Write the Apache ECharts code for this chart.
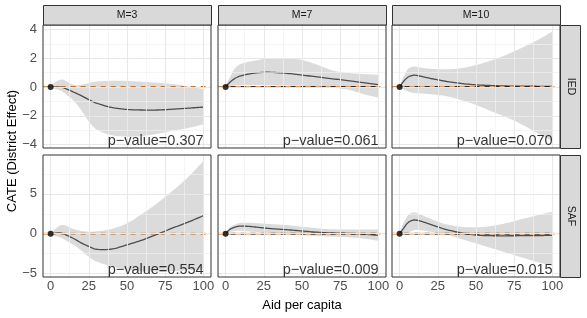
<!DOCTYPE html>
<html><head><meta charset="utf-8">
<script src="https://cdn.jsdelivr.net/npm/echarts@6/dist/echarts.min.js"></script>
<style>html,body{margin:0;padding:0;background:#fff}#c{width:587px;height:318px}</style>
</head><body><div id="c"></div>
<script>
// ---------------- data ----------------
const xs = [0, 2.5, 5, 7.5, 10, 15, 20, 25, 30, 40, 50, 60, 70, 80, 90, 100];
const colLabels = ['M=3', 'M=7', 'M=10'];
const rowLabels = ['IED', 'SAF'];
const pValues = [['0.307', '0.061', '0.070'], ['0.554', '0.009', '0.015']];

const iedM3Mean  = [0, 0, 0, -0.02, -0.12, -0.35, -0.6, -0.88, -1.12, -1.42, -1.56, -1.6, -1.6, -1.54, -1.47, -1.4];
const iedM3Upper = [0.05, 0.3, 0.45, 0.52, 0.42, 0.15, 0.15, 0.28, 0.38, 0.43, 0.42, 0.36, 0.3, 0.2, 0.05, -0.15];
const iedM3Lower = [-0.05, -0.12, -0.2, -0.3, -0.5, -0.95, -1.6, -2.4, -2.95, -3.35, -3.45, -3.4, -3.25, -3.05, -2.85, -2.6];

const iedM7Mean  = [0, 0.3, 0.52, 0.68, 0.78, 0.9, 0.98, 1.02, 1.02, 0.95, 0.83, 0.7, 0.57, 0.45, 0.3, 0.16];
const iedM7Upper = [0.05, 0.6, 1.15, 1.45, 1.6, 1.75, 1.85, 1.95, 2.0, 2.0, 1.88, 1.55, 1.15, 0.98, 0.9, 0.85];
const iedM7Lower = [-0.05, 0.05, 0.1, 0.12, 0.13, 0.14, 0.14, 0.13, 0.12, 0.1, 0.08, 0.03, -0.05, -0.18, -0.48, -0.75];

const iedM10Mean  = [0, 0.38, 0.65, 0.78, 0.82, 0.72, 0.6, 0.5, 0.4, 0.25, 0.15, 0.1, 0.07, 0.06, 0.05, 0.05];
const iedM10Upper = [0.05, 0.7, 1.2, 1.38, 1.42, 1.33, 1.27, 1.24, 1.23, 1.3, 1.52, 1.85, 2.25, 2.72, 3.25, 3.85];
const iedM10Lower = [-0.05, -0.15, -0.3, -0.38, -0.42, -0.46, -0.5, -0.56, -0.62, -0.9, -1.25, -1.68, -2.1, -2.6, -3.2, -3.75];

const safM3Mean  = [0, 0.05, 0.1, 0.05, -0.15, -0.6, -1.15, -1.6, -1.95, -1.92, -1.4, -0.8, -0.05, 0.72, 1.45, 2.26];
const safM3Upper = [0.1, 0.5, 0.9, 1.1, 1.0, 0.6, 0.35, 0.25, 0.3, 0.6, 1.3, 2.5, 3.85, 5.4, 7.1, 9.1];
const safM3Lower = [-0.1, -0.25, -0.4, -0.55, -0.85, -1.4, -2.1, -2.9, -3.5, -4.1, -4.5, -4.7, -4.75, -4.7, -4.6, -4.5];

const safM7Mean  = [0, 0.5, 0.75, 0.9, 0.96, 0.92, 0.83, 0.72, 0.63, 0.5, 0.34, 0.18, 0.09, 0.04, -0.05, -0.2];
const safM7Upper = [0.05, 0.75, 1.05, 1.25, 1.36, 1.38, 1.32, 1.26, 1.2, 1.08, 0.88, 0.68, 0.55, 0.54, 0.54, 0.54];
const safM7Lower = [-0.05, 0.2, 0.3, 0.36, 0.38, 0.3, 0.22, 0.16, 0.1, -0.04, -0.17, -0.29, -0.37, -0.45, -0.6, -0.88];

const safM10Mean  = [0, 0.65, 1.3, 1.62, 1.72, 1.5, 1.18, 0.85, 0.55, 0.12, -0.17, -0.25, -0.26, -0.25, -0.23, -0.21];
const safM10Upper = [0.1, 1.3, 2.2, 2.58, 2.65, 2.3, 1.9, 1.5, 1.2, 0.86, 0.8, 0.96, 1.33, 1.83, 2.3, 2.76];
const safM10Lower = [-0.1, -0.15, 0.1, 0.3, 0.45, 0.4, 0.25, 0.12, -0.05, -0.65, -1.22, -1.8, -2.4, -2.98, -3.55, -4.05];

const xTicks = [0, 25, 50, 75, 100];
const xMinor = [12.5, 37.5, 62.5, 87.5];
const yTicksTop = [-4, -2, 0, 2, 4];
const yMinorTop = [-3, -1, 1, 3];
const yTicksBot = [-5, 0, 5];
const yMinorBot = [-2.5, 2.5, 7.5];

// ---------------- layout ----------------
const panels = [
  [[iedM3Mean, iedM3Upper, iedM3Lower], [iedM7Mean, iedM7Upper, iedM7Lower], [iedM10Mean, iedM10Upper, iedM10Lower]],
  [[safM3Mean, safM3Upper, safM3Lower], [safM7Mean, safM7Upper, safM7Lower], [safM10Mean, safM10Upper, safM10Lower]]
];
const colLeft = [43, 218, 392];
const colW = 168;
const rowTop = [25, 155];
const rowH = [123, 122];
const xRange = [-5, 105];
const yRange = [[-4.24, 4.31], [-5.43, 9.87]];
const yTicks = [yTicksTop, yTicksBot];
const yMinor = [yMinorTop, yMinorBot];
const FONT = 'Liberation Sans, Arial, Helvetica, sans-serif';
const minus = v => String(v).replace('-', '\u2212');

// smooth (cubic Hermite) rendering of a pixel-space polyline
function smoothPts(pts) {
  const n = pts.length, m = [];
  for (let i = 0; i < n; i++) {
    const a = pts[Math.max(0, i - 1)], b = pts[Math.min(n - 1, i + 1)];
    m.push((b[1] - a[1]) / (b[0] - a[0]));
  }
  const out = [pts[0]];
  for (let i = 0; i < n - 1; i++) {
    const [x0, y0] = pts[i], [x1, y1] = pts[i + 1], h = x1 - x0;
    for (let k = 1; k <= 8; k++) {
      const t = k / 8, t2 = t * t, t3 = t2 * t;
      const y = (2 * t3 - 3 * t2 + 1) * y0 + (t3 - 2 * t2 + t) * h * m[i] + (-2 * t3 + 3 * t2) * y1 + (t3 - t2) * h * m[i + 1];
      out.push([x0 + t * h, y]);
    }
  }
  return out;
}

function panelRenderer(mean, up, lo) {
  return function (params, api) {
    if (params.dataIndex !== 0) return null;
    const top = smoothPts(xs.map((x, i) => api.coord([x, up[i]])));
    const bot = smoothPts(xs.map((x, i) => api.coord([x, lo[i]]))).reverse();
    const mid = smoothPts(xs.map((x, i) => api.coord([x, mean[i]])));
    return {
      type: 'group',
      children: [
        {type: 'polygon', shape: {points: top.concat(bot)}, style: {fill: 'rgba(190,190,190,0.55)', stroke: null}, z2: 1},
        {type: 'polyline', shape: {points: mid}, style: {fill: null, stroke: '#4d4d4d', lineWidth: 1.3}, z2: 10}
      ]
    };
  };
}

const grids = [], xAxes = [], yAxes = [], series = [], graphics = [];
for (let r = 0; r < 2; r++) {
  for (let c = 0; c < 3; c++) {
    const g = r * 3 + c;
    grids.push({left: colLeft[c], top: rowTop[r], width: colW, height: rowH[r], show: true,
      backgroundColor: 'rgba(0,0,0,0)', borderColor: '#333', borderWidth: 1, z: 10});
    xAxes.push({type: 'value', gridIndex: g, min: xRange[0], max: xRange[1],
      axisLine: {show: false}, splitLine: {show: false},
      axisTick: {show: r === 1, customValues: xTicks, length: 3, lineStyle: {color: '#333'}},
      axisLabel: {show: r === 1, customValues: xTicks, margin: 3, color: '#4d4d4d', fontSize: 13, fontFamily: FONT}});
    yAxes.push({type: 'value', gridIndex: g, min: yRange[r][0], max: yRange[r][1],
      axisLine: {show: false}, splitLine: {show: false},
      axisTick: {show: c === 0, customValues: yTicks[r], length: 3, lineStyle: {color: '#333'}},
      axisLabel: {show: c === 0, customValues: yTicks[r], margin: 6, color: '#4d4d4d', fontSize: 13, fontFamily: FONT,
        formatter: minus}});
    const gl = [];
    xMinor.forEach(v => gl.push({xAxis: v, lineStyle: {color: '#f1f1f1', width: 0.7, type: 'solid'}}));
    yMinor[r].forEach(v => gl.push({yAxis: v, lineStyle: {color: '#f1f1f1', width: 0.7, type: 'solid'}}));
    xTicks.forEach(v => gl.push({xAxis: v, lineStyle: {color: '#e8e8e8', width: 1.1, type: 'solid'}}));
    yTicks[r].forEach(v => gl.push({yAxis: v, lineStyle: {color: '#e8e8e8', width: 1.1, type: 'solid'}}));
    const base = {xAxisIndex: g, yAxisIndex: g, animation: false, silent: true};
    series.push(Object.assign({}, base, {type: 'line', data: [], z: 1,
      markLine: {silent: true, symbol: ['none', 'none'], label: {show: false}, animation: false, data: gl}}));
    const [mean, up, lo] = panels[r][c];
    // zero reference lines
    series.push(Object.assign({}, base, {type: 'line', symbol: 'none', z: 3,
      lineStyle: {color: '#d9822b', width: 1.8}, data: [[xRange[0], 0], [0, 0]]}));
    series.push(Object.assign({}, base, {type: 'line', symbol: 'none', z: 3,
      lineStyle: {color: c === 0 ? '#c0722f' : '#e39a5e', width: 1.8, type: [5, 5]}, data: [[0, 0], [xRange[1], 0]]}));
    if (c > 0) {
      series.push(Object.assign({}, base, {type: 'line', symbol: 'none', z: 3,
        lineStyle: {color: '#1a1a1a', width: 1.8, type: [5, 5], dashOffset: 5}, data: [[0, 0], [100, 0]]}));
    }
    series.push(Object.assign({}, base, {type: 'custom', z: 2, clip: true,
      renderItem: panelRenderer(mean, up, lo), data: xs.map((x, i) => [x, lo[i], up[i], mean[i]]),
      encode: {x: 0, y: [1, 2, 3]}}));
    series.push(Object.assign({}, base, {type: 'scatter', symbolSize: 6, z: 5,
      itemStyle: {color: '#000'}, data: [[0, 0]]}));
    series.push(Object.assign({}, base, {type: 'scatter', symbolSize: 1, z: 6,
      itemStyle: {color: 'rgba(0,0,0,0)'}, data: [[100.5, yRange[r][0]]],
      label: {show: true, position: [0, 0], align: 'right', verticalAlign: 'bottom', offset: [0, 1],
        formatter: 'p\u2212value=' + pValues[r][c], color: '#000', fontSize: 14.5, fontFamily: FONT}}));
    // strips
    if (r === 0) {
      graphics.push({type: 'rect', shape: {x: colLeft[c] + 0.5, y: 5.5, width: colW, height: 19.5},
        style: {fill: '#d9d9d9', stroke: '#333', lineWidth: 1}, z: 20});
      graphics.push({type: 'text', x: colLeft[c] + colW / 2, y: 15.5, z: 21,
        style: {text: colLabels[c], fill: '#1a1a1a', font: '10.5px ' + FONT, align: 'center', verticalAlign: 'middle'}});
    }
    if (c === 2) {
      graphics.push({type: 'rect', shape: {x: colLeft[c] + colW + 0.5, y: rowTop[r] + 0.5, width: 20, height: rowH[r]},
        style: {fill: '#d9d9d9', stroke: '#333', lineWidth: 1}, z: 20});
      graphics.push({type: 'text', x: colLeft[c] + colW + 10.5, y: rowTop[r] + rowH[r] / 2, rotation: -Math.PI / 2, z: 21,
        style: {text: rowLabels[r], fill: '#1a1a1a', font: '10.5px ' + FONT, align: 'center', verticalAlign: 'middle'}});
    }
  }
}
graphics.push({type: 'text', x: 12, y: 151, rotation: Math.PI / 2, z: 21,
  style: {text: 'CATE (District Effect)', fill: '#000', font: '13px ' + FONT, align: 'center', verticalAlign: 'middle'}});
graphics.push({type: 'text', x: 302, y: 305, z: 21,
  style: {text: 'Aid per capita', fill: '#000', font: '13px ' + FONT, align: 'center', verticalAlign: 'middle'}});

const chart = echarts.init(document.getElementById('c'), null, {renderer: 'canvas'});
chart.setOption({animation: false, backgroundColor: '#fff', grid: grids, xAxis: xAxes, yAxis: yAxes,
  series: series, graphic: graphics});
</script></body></html>
